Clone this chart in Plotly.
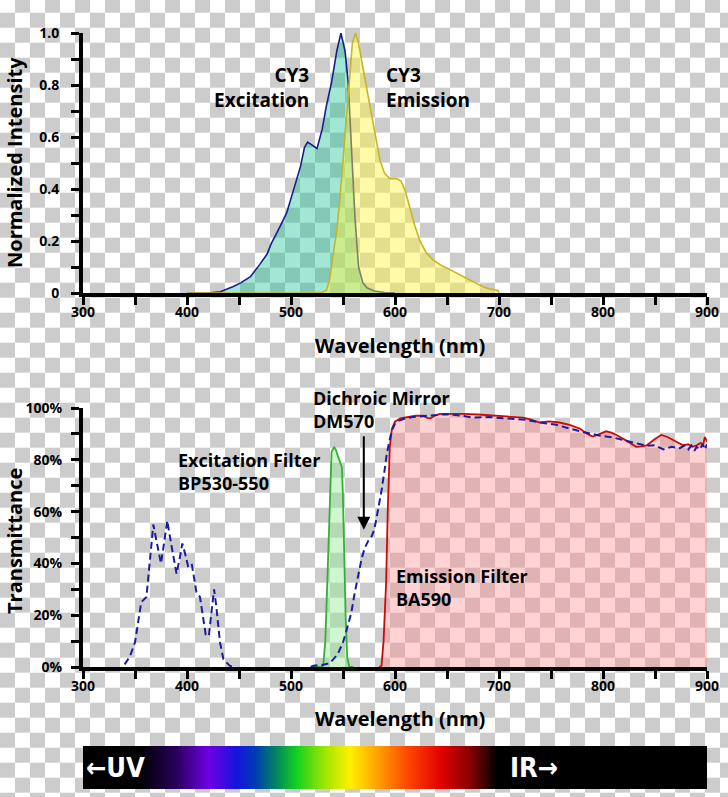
import base64
import plotly.graph_objects as go

# ---------------- data ----------------
# Top panel: CY3 spectra (wavelength nm, normalized intensity)
ex_wl = [400, 420, 432, 444, 452, 461, 470, 477, 481, 485, 490, 496, 502, 509, 513, 516,
         520, 525, 530, 534, 539, 544, 548, 552, 555, 558, 561.5, 565, 569, 573, 580, 590, 600]
ex_val = [0, 0, 0.005, 0.024, 0.04, 0.063, 0.11, 0.15, 0.19, 0.22, 0.26, 0.31, 0.39, 0.485, 0.56, 0.58,
          0.57, 0.556, 0.63, 0.72, 0.81, 0.93, 1.0, 0.93, 0.81, 0.55, 0.29, 0.10, 0.04, 0.02, 0.008, 0.002, 0]

em_wl = [400, 520, 530, 534, 537, 540, 544, 547, 552, 556.7, 559, 562, 565, 569, 573, 577.6, 581,
         585.6, 590, 595, 601.6, 606, 610, 614, 619, 624, 630, 636.5, 645, 653, 661, 669, 677,
         684.6, 692, 699, 700]
em_val = [0, 0, 0.003, 0.01, 0.05, 0.127, 0.24, 0.36, 0.61, 0.87, 0.96, 1.0, 0.96, 0.87, 0.78, 0.68, 0.6,
          0.51, 0.46, 0.44, 0.44, 0.43, 0.39, 0.33, 0.26, 0.2, 0.155, 0.127, 0.105, 0.09, 0.072, 0.056, 0.04,
          0.024, 0.015, 0.01, 0]

# Bottom panel: filter transmittance (%) -- dichroic mirror (UV band, gap, then visible/IR)
dm_wl = [340, 345, 350, 353, 356, 361, 364, 367.6, 371, 375, 378, 381, 385, 390, 393, 395.5, 398, 401,
         404.5, 409, 412.5, 415, 418, 421, 423.5, 426, 428, 431.7, 435, 441, 445, None, 519, 521.5, 530,
         537.5, 545, 550, 554, 558, 561, 564.7, 568, 571, 574, 577.6, 580, 582, 585, 587, 590, 592, 594.5,
         596.7, 600, 603, 610, 617, 630, 650, 665, 675, 690, 713, 725, 739, 755, 778, 795, 809.6, 825,
         842, 850, 858, 866, 874, 878, 882, 885, 888, 890, 893, 896, 898, 900]
dm_val = [1, 4, 9.5, 18, 25, 27, 40, 55, 48, 40, 48, 56.5, 47, 36, 42, 47.7, 44, 39,
          40, 29, 27, 20, 12.5, 12, 20, 30, 24, 9.6, 3, 0.5, 0, None, 0, 0.5, 0.8,
          1.5, 5, 9.5, 15, 21, 28, 36, 42, 46, 48.5, 50.5, 53, 57, 63, 68, 76, 82, 87,
          91, 94, 95, 96, 96.5, 97, 97.6, 97, 96.3, 96.5, 95.8, 95.5, 94.4, 93.5, 91, 89.5, 88.6, 87,
          85.4, 85.6, 84, 85, 84.5, 85.5, 84, 85.5, 83.5, 85, 84, 86, 84, 86]

ex_f_wl = [520, 528, 531, 533, 536, 538, 539, 541.5, 543, 545.5, 549, 550, 551, 552.5, 554, 556, 560]
ex_f_val = [0, 0, 0.5, 10, 46, 75, 83, 85, 84, 81, 77, 65, 46, 20, 4, 0, 0]

em_f_wl = [585, 587, 589, 591.5, 593, 595, 597, 600, 605, 612, 620, 627, 631, 634, 638, 643, 655, 665,
           680, 698, 710, 723, 731, 739, 748, 758, 768, 778, 785, 790, 797, 803, 808, 813, 822, 832,
           837, 842, 850, 856, 862, 867.5, 872, 877, 882, 886, 890, 894, 896, 898, 900]
em_f_val = [0, 0.5, 10, 33, 60, 85, 92, 94.7, 96, 96.5, 97, 97, 96.2, 96, 97, 97.7, 97.8, 97.7,
            97.5, 97, 96.8, 96.3, 95.5, 94.4, 94.8, 94.4, 93.5, 92, 90, 89, 90, 91, 90.5, 89.6, 87.5, 85,
            85.2, 85.6, 88, 89.6, 88.8, 87.6, 86.5, 85.6, 86, 85, 85.6, 86.5, 85.5, 88.8, 87]

top_ytick_vals = [0, 0.2, 0.4, 0.6, 0.8, 1.0]
top_ytick_text = ["0", "0.2", "0.4", "0.6", "0.8", "1.0"]
bot_ytick_vals = [0, 20, 40, 60, 80, 100]
bot_ytick_text = ["0%", "20%", "40%", "60%", "80%", "100%"]
x_tick_vals = [300, 400, 500, 600, 700, 800, 900]

# ---------------- layout helpers ----------------
W, H = 728, 797
def px(x):
    return x / W
def py(y):
    return 1 - y / H

FONT = "Open Sans"

# checkerboard background (transparency pattern in the reference)
checker_svg = (
    f'<svg xmlns="http://www.w3.org/2000/svg" width="{W}" height="{H}">'
    '<defs><pattern id="p" x="0" y="-2.3" width="30" height="30" patternUnits="userSpaceOnUse">'
    '<rect width="30" height="30" fill="#ffffff"/>'
    '<rect x="15" y="0" width="15" height="15" fill="#cccccc"/>'
    '<rect x="0" y="15" width="15" height="15" fill="#cccccc"/>'
    '</pattern></defs>'
    f'<rect width="{W}" height="{H}" fill="url(#p)"/></svg>'
)
checker_src = "data:image/svg+xml;base64," + base64.b64encode(checker_svg.encode()).decode()

spectrum_stops = [(0.0, "#000000"), (0.09, "#000000"), (0.149, "#28005a"), (0.202, "#6e00e6"),
                  (0.247, "#1414dc"), (0.276, "#003cb4"), (0.308, "#008264"), (0.343, "#14d21e"),
                  (0.388, "#a0e600"), (0.428, "#fff000"), (0.478, "#ff9600"), (0.521, "#ff4600"),
                  (0.574, "#e10000"), (0.619, "#8c0000"), (0.663, "#000000"), (1.0, "#000000")]
stops = "".join(f'<stop offset="{o}" stop-color="{c}"/>' for o, c in spectrum_stops)
bar_svg = (
    '<svg xmlns="http://www.w3.org/2000/svg" width="624" height="42" preserveAspectRatio="none">'
    f'<defs><linearGradient id="g" x1="0" y1="0" x2="1" y2="0">{stops}</linearGradient></defs>'
    '<rect width="624" height="42" fill="url(#g)"/></svg>'
)
bar_src = "data:image/svg+xml;base64," + base64.b64encode(bar_svg.encode()).decode()

# ---------------- traces ----------------
fig = go.Figure()

fig.add_trace(go.Scatter(x=ex_wl, y=ex_val, mode="lines", fill="tozeroy",
                         fillcolor="rgba(20,195,145,0.4)", line=dict(color="#16208a", width=1.6),
                         xaxis="x", yaxis="y", showlegend=False))
fig.add_trace(go.Scatter(x=em_wl, y=em_val, mode="lines", fill="tozeroy",
                         fillcolor="rgba(255,245,60,0.45)", line=dict(color="#c8b42a", width=1.6),
                         xaxis="x", yaxis="y", showlegend=False))

fig.add_trace(go.Scatter(x=em_f_wl, y=em_f_val, mode="lines", fill="tozeroy",
                         fillcolor="rgba(255,140,140,0.38)", line=dict(color="#cc0a0a", width=1.8),
                         xaxis="x2", yaxis="y2", showlegend=False))
fig.add_trace(go.Scatter(x=ex_f_wl, y=ex_f_val, mode="lines", fill="tozeroy",
                         fillcolor="rgba(150,235,150,0.45)", line=dict(color="#34b034", width=1.8),
                         xaxis="x2", yaxis="y2", showlegend=False))
fig.add_trace(go.Scatter(x=dm_wl, y=dm_val, mode="lines", connectgaps=False,
                         line=dict(color="#1c1c9c", width=2, dash="7px,4px"),
                         xaxis="x2", yaxis="y2", showlegend=False))

# ---------------- axes ----------------
tickfont = dict(family=FONT, size=14, color="black", weight="bold")
axis_common = dict(showline=True, linecolor="black", linewidth=4, ticks="outside", ticklen=8,
                   tickwidth=3, tickcolor="black", showgrid=False, zeroline=False, tickfont=tickfont,
                   fixedrange=True, automargin=False, layer="above traces")
minor_x = dict(dtick=50, ticks="outside", ticklen=8, tickwidth=3, tickcolor="black", showgrid=False)

fig.update_layout(
    xaxis=dict(domain=[px(83), px(707)], range=[300, 900], anchor="y", tickvals=x_tick_vals,
               minor=minor_x, ticklabelstandoff=-5, **axis_common),
    yaxis=dict(domain=[py(293), py(33)], range=[0, 1.0], anchor="x", tickvals=top_ytick_vals,
               ticktext=top_ytick_text, ticklabelstandoff=9,
               minor=dict(dtick=0.1, ticks="outside", ticklen=8, tickwidth=3, tickcolor="black",
                          showgrid=False), **axis_common),
    xaxis2=dict(domain=[px(83), px(707)], range=[300, 900], anchor="y2", tickvals=x_tick_vals,
                minor=minor_x, ticklabelstandoff=-5, **axis_common),
    yaxis2=dict(domain=[py(667), py(408)], range=[0, 100], anchor="x2", tickvals=bot_ytick_vals,
                ticktext=bot_ytick_text, ticklabelstandoff=6,
                minor=dict(dtick=10, ticks="outside", ticklen=8, tickwidth=3, tickcolor="black",
                           showgrid=False), **axis_common),
)

# ---------------- text ----------------
ann = []
def text(x, y, s, size=18, xanchor="left", yanchor="middle", align="left", color="black",
         textangle=0, family=FONT):
    ann.append(dict(x=px(x), y=py(y), xref="paper", yref="paper", text=s, showarrow=False,
                    xanchor=xanchor, yanchor=yanchor, align=align, textangle=textangle,
                    font=dict(family=family, size=size, color=color, weight="bold")))

text(311, 87, "CY3<br>Excitation", size=19, xanchor="right", align="right")
text(384, 87, "CY3<br>Emission", size=19, xanchor="left", align="left")
text(14, 163, "Normalized Intensity", size=20, xanchor="center", textangle=-90)
text(400, 345, "Wavelength (nm)", size=20, xanchor="center")

text(311, 409, "Dichroic Mirror<br>DM570", size=18)
text(176, 471, "Excitation Filter<br>BP530-550", size=18)
text(394, 587, "Emission Filter<br>BA590", size=18)
text(14, 541, "Transmittance", size=20, xanchor="center", textangle=-90)
text(400, 718, "Wavelength (nm)", size=20, xanchor="center")

text(84, 767, "←UV", size=27, color="white", family="DejaVu Sans Condensed")
text(508, 767, "IR→", size=27, color="white", family="DejaVu Sans Condensed")

# arrow for dichroic mirror (head at 570 nm / ~53 %)
ann.append(dict(x=570, y=53, xref="x2", yref="y2", ax=0, ay=-95, axref="pixel", ayref="pixel",
                showarrow=True, arrowhead=2, arrowsize=1.3, arrowwidth=2, arrowcolor="black",
                text="", standoff=0, startstandoff=0))

fig.update_layout(
    annotations=ann,
    images=[
        dict(source=checker_src, xref="paper", yref="paper", x=0, y=1, sizex=1, sizey=1,
             xanchor="left", yanchor="top", sizing="stretch", layer="below"),
        dict(source=bar_src, xref="paper", yref="paper", x=px(83), y=py(746), sizex=px(707) - px(83),
             sizey=py(746) - py(789), xanchor="left", yanchor="top", sizing="stretch", layer="above"),
    ],
    width=W, height=H, autosize=False,
    margin=dict(l=0, r=0, t=0, b=0, pad=0, autoexpand=False),
    paper_bgcolor="white", plot_bgcolor="rgba(0,0,0,0)",
    font=dict(family=FONT, color="black"),
    showlegend=False,
)

fig.write_html("out.html", post_script="document.body.style.margin='0px';",
               config={"displayModeBar": False})
